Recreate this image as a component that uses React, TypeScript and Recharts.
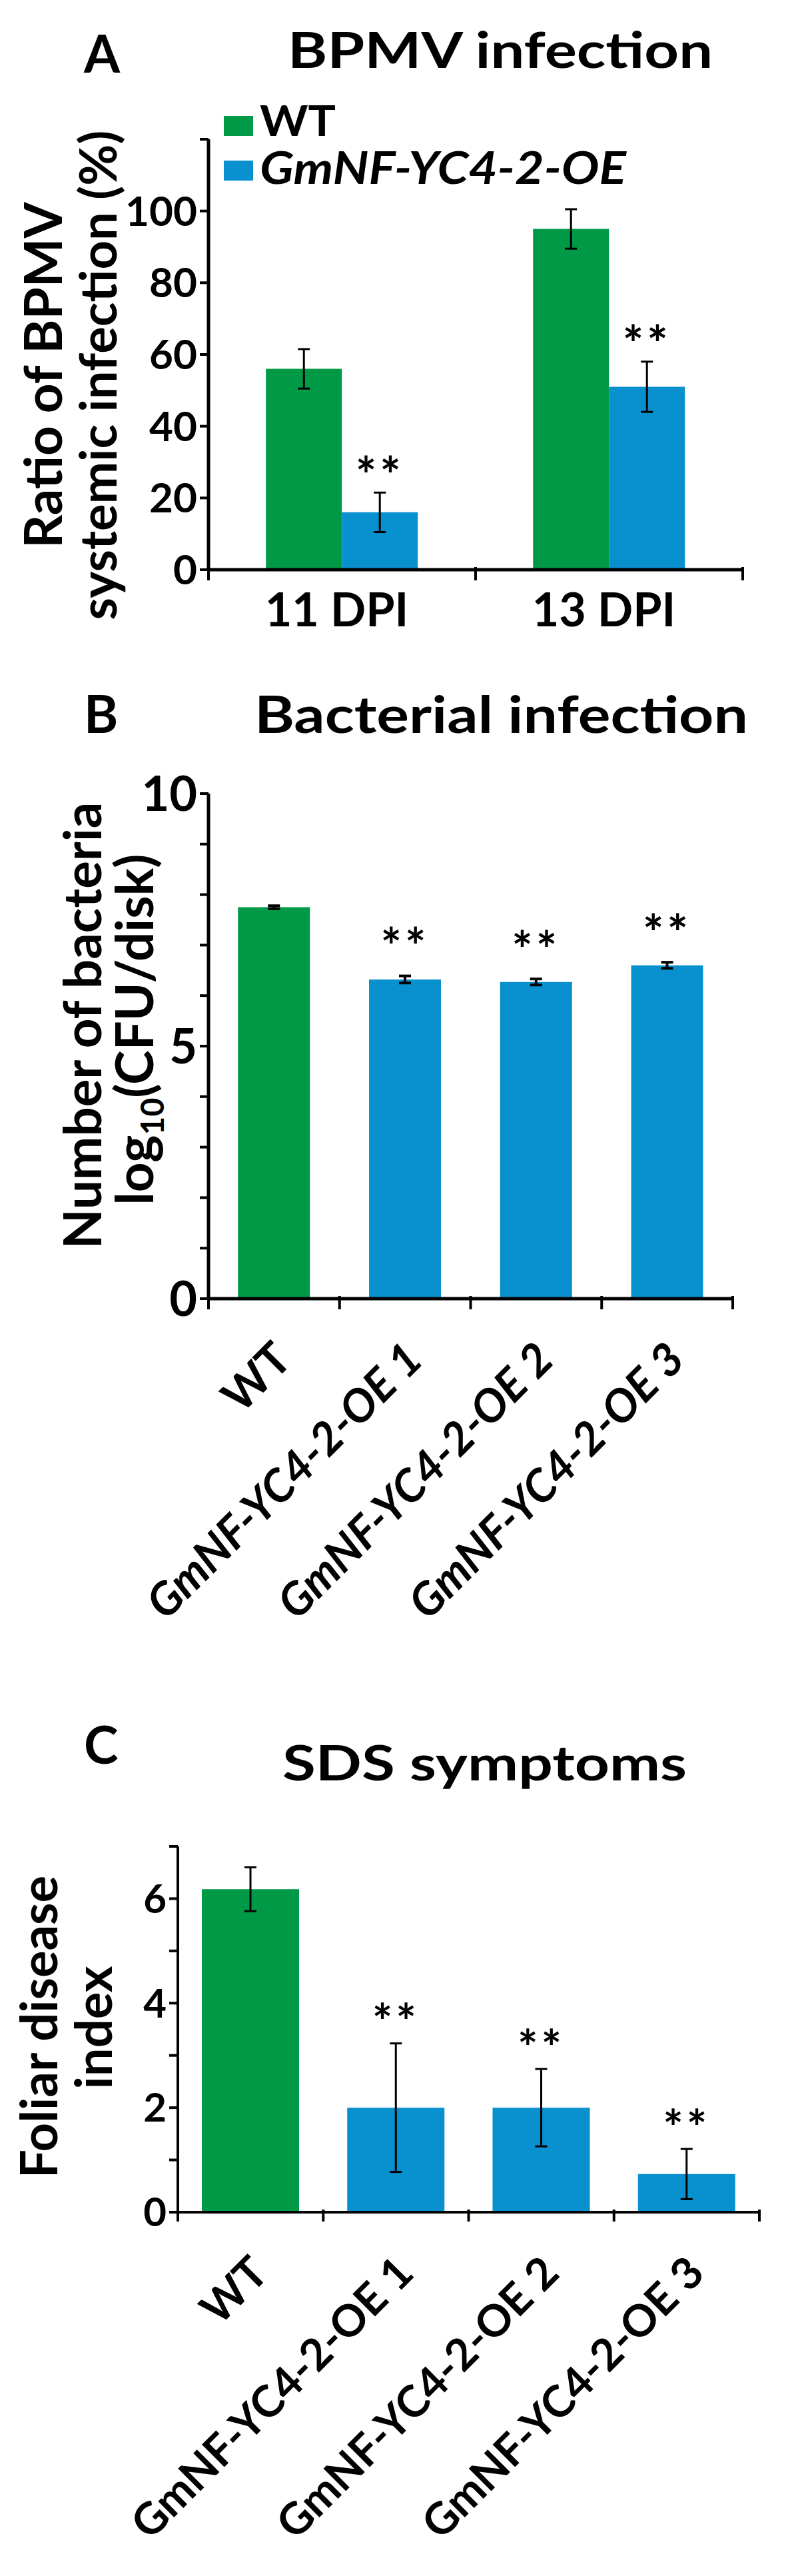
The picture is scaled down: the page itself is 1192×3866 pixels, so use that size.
import React from "react";
import { Bar, BarChart, Cell, ErrorBar, LabelList, XAxis, YAxis } from "recharts";

const GREEN = "#009a46";
const BLUE = "#0890cf";
const FONT = "Lato, 'Open Sans', sans-serif";

// A: BPMV systemic infection (%)
const dpiDays = ["11 DPI", "13 DPI"];
const bpmvWT = [56, 95];
const bpmvWTErr = [5.5, 5.5];
const bpmvOE = [16, 51];
const bpmvOEErr = [5.5, 7];
const bpmvTicks = [0, 20, 40, 60, 80, 100, 120];

// B + C share the same lines
const lines = ["WT", "GmNF-YC4-2-OE 1", "GmNF-YC4-2-OE 2", "GmNF-YC4-2-OE 3"];
const starred = [false, true, true, true];

// B: log10(CFU/disk)
const bacteria = [7.75, 6.32, 6.27, 6.6];
const bacteriaErr = [0.03, 0.07, 0.06, 0.06];
const bacteriaTicks = [0, 1, 2, 3, 4, 5, 6, 7, 8, 9, 10];
const bacteriaLabels = [0, 5, 10];

// C: foliar disease index
const sds = [6.18, 2.0, 2.0, 0.73];
const sdsErr = [0.42, 1.23, 0.74, 0.48];
const sdsTicks = [0, 1, 2, 3, 4, 5, 6, 7];
const sdsLabels = [0, 2, 4, 6];

const bpmvData = dpiDays.map((day, i) => ({
  day,
  wt: bpmvWT[i],
  wtErr: bpmvWTErr[i],
  oe: bpmvOE[i],
  oeErr: bpmvOEErr[i],
}));
const bacteriaData = lines.map((line, i) => ({ line, v: bacteria[i], err: bacteriaErr[i] }));
const sdsData = lines.map((line, i) => ({ line, v: sds[i], err: sdsErr[i] }));

const W = 1192;
const txt = { fontFamily: FONT, fontWeight: 700, fill: "#000" } as const;
const fit = (len: number) => ({ textLength: len, lengthAdjust: "spacingAndGlyphs" as const });

// x ticks sit on category boundaries, not centres
function boundaryTick(half: number, len: number, sw: number, label: (v: string, x: number, y: number) => React.ReactNode) {
  return (props: any) => {
    const { x, y, index, visibleTicksCount, payload } = props;
    const last = index === visibleTicksCount - 1;
    return (
      <g>
        <line x1={x - half} x2={x - half} y1={y - 4} y2={y + len} stroke="#000" strokeWidth={sw} />
        {last && <line x1={x + half} x2={x + half} y1={y - 4} y2={y + len} stroke="#000" strokeWidth={sw} />}
        {label(String(payload.value), x, y)}
      </g>
    );
  };
}

const dpiLabel = (v: string, x: number, y: number) => (
  <text x={x - 8} y={y + 85} textAnchor="middle" fontSize={70} {...txt}>
    {v}
  </text>
);

const lineLabel = (size: number, dx: number, dy: number, italic: boolean) => (v: string, x: number, y: number) => {
  const ax = x + dx;
  const ay = y + dy;
  return (
    <text
      x={ax}
      y={ay}
      transform={`rotate(-45 ${ax} ${ay})`}
      textAnchor="end"
      fontSize={size}
      {...txt}
      fontStyle={italic && v !== "WT" ? "italic" : "normal"}
    >
      {v}
    </text>
  );
};

// "**" above the error bar, placed from the bar's own geometry
function stars(errs: number[], show: boolean[], lift: number, size: number) {
  return (props: any) => {
    const vb = props.viewBox ?? props;
    const { x, y, width, height } = vb;
    const value = Number(props.value);
    const i = props.index;
    if (!show[i] || !value) return null;
    const errTop = y - (errs[i] * height) / value;
    return (
      <text x={x + width / 2} y={errTop - lift + size * 0.55} textAnchor="middle" fontSize={size} letterSpacing={5} {...txt}>
        **
      </text>
    );
  };
}

const axisLine = (w: number) => ({ stroke: "#000", strokeWidth: w });

function PanelA() {
  const left = 313;
  const right = 77;
  const half = (W - left - right) / dpiDays.length / 2;
  return (
    <div style={{ position: "absolute", left: 0, top: 0, width: W, height: 1000 }}>
      <BarChart width={W} height={1000} data={bpmvData} margin={{ top: 209, right, bottom: 0, left: 0 }} barCategoryGap="21.5%" barGap={0}>
        <XAxis dataKey="day" height={145} interval={0} tickSize={0} tickMargin={0} tickLine={false} axisLine={axisLine(5)} tick={boundaryTick(half, 16, 4, dpiLabel)} />
        <YAxis
          type="number"
          domain={[0, 120]}
          ticks={bpmvTicks}
          interval={0}
          width={left}
          tickSize={13}
          tickMargin={4}
          axisLine={axisLine(5)}
          tickLine={axisLine(4)}
          tick={{ ...txt, fontSize: 62 }}
          tickFormatter={(v: number) => (v === 120 ? "" : String(v))}
        />
        <Bar dataKey="wt" name="WT" fill={GREEN} isAnimationActive={false}>
          <ErrorBar dataKey="wtErr" width={9} strokeWidth={3} stroke="#000" />
        </Bar>
        <Bar dataKey="oe" name="GmNF-YC4-2-OE" fill={BLUE} isAnimationActive={false}>
          <ErrorBar dataKey="oeErr" width={9} strokeWidth={3} stroke="#000" />
          <LabelList dataKey="oe" content={stars(bpmvOEErr, [true, true], 40, 74)} />
        </Bar>
      </BarChart>
      <svg width={W} height={1000} style={{ position: "absolute", left: 0, top: 0, pointerEvents: "none" }}>
        <text x={126} y={109} fontSize={78} {...txt}>A</text>
        <text x={432} y={102} fontSize={74} {...txt} {...fit(638)}>BPMV infection</text>
        <rect x={336} y={174} width={44} height={30} fill={GREEN} />
        <text x={390} y={204} fontSize={64} {...txt} {...fit(114)}>WT</text>
        <rect x={336} y={241} width={44} height={30} fill={BLUE} />
        <text x={390} y={276} fontSize={66} fontStyle="italic" {...txt} {...fit(550)}>GmNF-YC4-2-OE</text>
        <text transform="translate(93,563) rotate(-90)" fontSize={78} textAnchor="middle" {...txt}>Ratio of BPMV</text>
        <text transform="translate(175,563) rotate(-90)" fontSize={76} textAnchor="middle" {...txt}>systemic infection (%)</text>
      </svg>
    </div>
  );
}

function PanelB() {
  const top = 1000;
  const h = 1480;
  const left = 313;
  const right = 92;
  const half = (W - left - right) / lines.length / 2;
  return (
    <div style={{ position: "absolute", left: 0, top, width: W, height: h }}>
      <BarChart width={W} height={h} data={bacteriaData} margin={{ top: 191, right, bottom: 0, left: 0 }} barCategoryGap="22.5%">
        <XAxis dataKey="line" height={531} interval={0} tickSize={0} tickMargin={0} tickLine={false} axisLine={axisLine(5)} tick={boundaryTick(half, 16, 4, lineLabel(68, 30, 95, true))} />
        <YAxis
          type="number"
          domain={[0, 10]}
          ticks={bacteriaTicks}
          interval={0}
          width={left}
          tickSize={13}
          tickMargin={4}
          axisLine={axisLine(5)}
          tickLine={axisLine(4)}
          tick={{ ...txt, fontSize: 72 }}
          tickFormatter={(v: number) => (bacteriaLabels.includes(v) ? String(v) : "")}
        />
        <Bar dataKey="v" isAnimationActive={false}>
          {bacteriaData.map((d, i) => (
            <Cell key={d.line} fill={i === 0 ? GREEN : BLUE} />
          ))}
          <ErrorBar dataKey="err" width={9} strokeWidth={4} stroke="#000" />
          <LabelList dataKey="v" content={stars(bacteriaErr, starred, 58, 74)} />
        </Bar>
      </BarChart>
      <svg width={W} height={h} style={{ position: "absolute", left: 0, top: 0, pointerEvents: "none" }}>
        <text x={126} y={100} fontSize={78} {...txt}>B</text>
        <text x={382} y={100} fontSize={76} {...txt} {...fit(741)}>Bacterial infection</text>
        <text transform="translate(152,539) rotate(-90)" fontSize={78} textAnchor="middle" {...txt}>Number of bacteria</text>
        <text transform="translate(230,545) rotate(-90)" fontSize={78} textAnchor="middle" {...txt}>
          log<tspan fontSize={48} dy={16}>10</tspan>
          <tspan dy={-16}>(CFU/disk)</tspan>
        </text>
      </svg>
    </div>
  );
}

function PanelC() {
  const top = 2480;
  const h = 1386;
  const left = 267;
  const right = 52;
  const half = (W - left - right) / lines.length / 2;
  return (
    <div style={{ position: "absolute", left: 0, top, width: W, height: h }}>
      <BarChart width={W} height={h} data={sdsData} margin={{ top: 291, right, bottom: 0, left: 0 }} barCategoryGap="16.5%">
        <XAxis dataKey="line" height={546} interval={0} tickSize={0} tickMargin={0} tickLine={false} axisLine={axisLine(4)} tick={boundaryTick(half, 14, 4, lineLabel(66, 30, 95, false))} />
        <YAxis
          type="number"
          domain={[0, 7]}
          ticks={sdsTicks}
          interval={0}
          width={left}
          tickSize={13}
          tickMargin={4}
          axisLine={axisLine(4)}
          tickLine={axisLine(4)}
          tick={{ ...txt, fontSize: 60 }}
          tickFormatter={(v: number) => (sdsLabels.includes(v) ? String(v) : "")}
        />
        <Bar dataKey="v" isAnimationActive={false}>
          {sdsData.map((d, i) => (
            <Cell key={d.line} fill={i === 0 ? GREEN : BLUE} />
          ))}
          <ErrorBar dataKey="err" width={9} strokeWidth={3} stroke="#000" />
          <LabelList dataKey="v" content={stars(sdsErr, starred, 45, 72)} />
        </Bar>
      </BarChart>
      <svg width={W} height={h} style={{ position: "absolute", left: 0, top: 0, pointerEvents: "none" }}>
        <text x={126} y={167} fontSize={78} {...txt}>C</text>
        <text x={424} y={192} fontSize={72} {...txt} {...fit(607)}>SDS symptoms</text>
        <text transform="translate(86,562) rotate(-90)" fontSize={76} textAnchor="middle" {...txt}>Foliar disease</text>
        <text transform="translate(168,563) rotate(-90)" fontSize={76} textAnchor="middle" {...txt}>index</text>
      </svg>
    </div>
  );
}

export default function App() {
  return (
    <div style={{ position: "absolute", left: 0, top: 0, width: W, height: 3866, background: "#fff" }}>
      <PanelA />
      <PanelB />
      <PanelC />
    </div>
  );
}
